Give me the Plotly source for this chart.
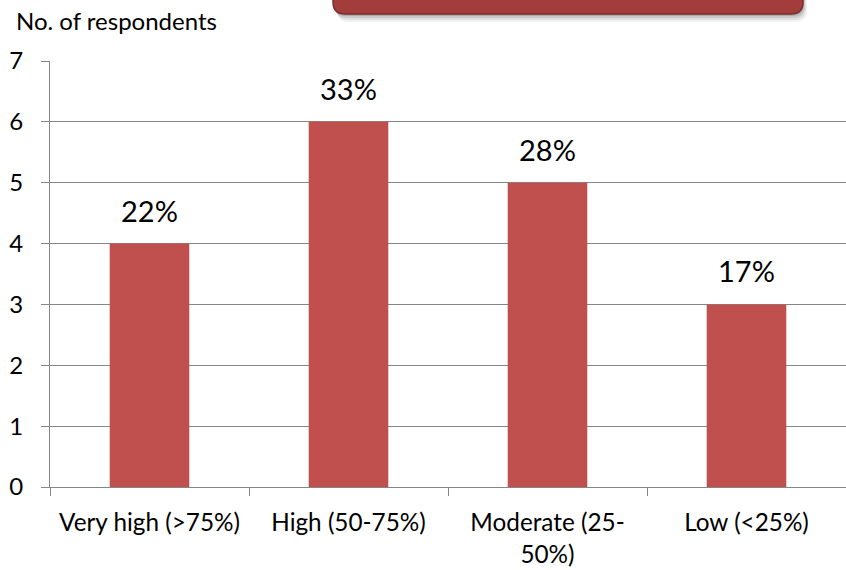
import plotly.graph_objects as go

categories = ["Very high (>75%)", "High (50-75%)", "Moderate (25-<br>50%)", "Low (<25%)"]
respondents = [4, 6, 5, 3]
pct_labels = ["22%", "33%", "28%", "17%"]
y_ticks = [0, 1, 2, 3, 4, 5, 6, 7]

W, H = 846, 570
L, R, T, B = 50, 0, 61, 83
pw, ph = W - L - R, H - T - B

def px2paper(x, y):
    return (x - L) / pw, (H - B - y) / ph

FONT = "Lato, Carlito, Calibri, sans-serif"

fig = go.Figure()
fig.add_trace(go.Bar(
    x=categories, y=respondents,
    marker=dict(color="#C0504D", line=dict(width=0)),
    width=0.4,
    hoverinfo="skip",
))

annotations = []
for c, v, t in zip(categories, respondents, pct_labels):
    annotations.append(dict(x=c, y=v, xref="x", yref="y", text=t, showarrow=False,
                            yanchor="bottom", yshift=14,
                            font=dict(family=FONT, size=29, color="#000000")))
ax, ay = px2paper(14, 21)
annotations.append(dict(x=ax, y=ay, xref="paper", yref="paper", text="No. of respondents",
                        showarrow=False, xanchor="left", yanchor="middle",
                        font=dict(family=FONT, size=24, color="#000000")))

def rounded_box(x0, y0, x1, y1, r):
    def P(x, y):
        a, b = px2paper(x, y)
        return f"{a:.5f},{b:.5f}"
    return (f"M {P(x0, y0)} L {P(x1, y0)} L {P(x1, y1 - r)} "
            f"Q {P(x1, y1)} {P(x1 - r, y1)} L {P(x0 + r, y1)} "
            f"Q {P(x0, y1)} {P(x0, y1 - r)} Z")

shapes = []
for off, op in [(8, 0.05), (6, 0.07), (4, 0.10), (2, 0.14)]:
    shapes.append(dict(type="path", xref="paper", yref="paper",
                       path=rounded_box(333 + off / 2, -20, 803 + off / 2, 14 + off, 12),
                       fillcolor=f"rgba(0,0,0,{op})", line=dict(width=0), layer="above"))
shapes.append(dict(type="path", xref="paper", yref="paper",
                   path=rounded_box(333, -20, 803, 14, 12),
                   fillcolor="#A23D3B", line=dict(color="#7E2E2D", width=1.5), layer="above"))

fig.update_layout(
    width=W, height=H,
    margin=dict(l=L, r=R, t=T, b=B, pad=0),
    paper_bgcolor="white", plot_bgcolor="white",
    showlegend=False,
    bargap=0.6,
    font=dict(family=FONT, color="#000000"),
    annotations=annotations,
    shapes=shapes,
    xaxis=dict(
        type="category",
        showgrid=False,
        showline=True, linecolor="#868686", linewidth=1,
        ticks="outside", tickson="boundaries", ticklen=8, tickcolor="#868686",
        tickfont=dict(family=FONT, size=24.3, color="#000000"),
        ticklabelstandoff=14,
        range=[-0.5, 3.5],
    ),
    yaxis=dict(
        range=[0, 7],
        tickvals=y_ticks,
        showgrid=True, gridcolor="#868686", gridwidth=1,
        showline=True, linecolor="#868686", linewidth=1,
        ticks="outside", ticklen=8, tickcolor="#868686",
        tickfont=dict(family=FONT, size=24, color="#000000"),
        ticklabelstandoff=13,
        zeroline=False,
    ),
)

fig.write_html("out.html",
               config={"displayModeBar": False},
               post_script="document.body.style.margin='0';document.body.style.overflow='hidden';")
